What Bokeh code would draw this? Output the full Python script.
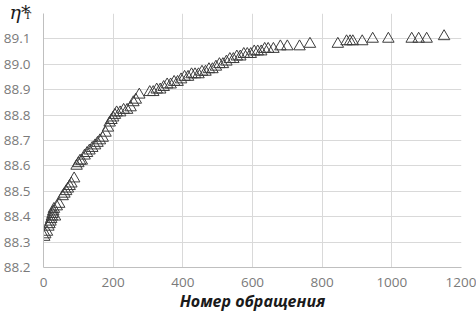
from bokeh.plotting import figure
from bokeh.models import Range1d, FixedTicker, PrintfTickFormatter, Title
from bokeh.embed import file_html
from bokeh.resources import INLINE

# Data
x_vals = [2, 5, 10, 14, 17, 20, 22, 24, 26, 28, 30, 33, 38, 45, 55, 60, 65, 70, 75, 80,
          88, 95, 100, 105, 110, 118, 125, 132, 140, 148, 155, 162, 170, 178, 185, 190,
          195, 200, 205, 210, 220, 230, 240, 250, 258, 265, 275, 305, 315, 325, 335, 345,
          355, 365, 375, 385, 395, 405, 415, 425, 435, 445, 455, 465, 475, 485, 495, 505,
          515, 525, 535, 545, 555, 565, 575, 585, 595, 605, 615, 625, 635, 645, 660, 680,
          700, 735, 765, 845, 870, 880, 888, 915, 945, 990, 1057, 1077, 1100, 1150]
y_vals = [88.32, 88.33, 88.34, 88.36, 88.37, 88.38, 88.39, 88.40, 88.41, 88.42, 88.43, 88.40,
          88.44, 88.45, 88.48, 88.49, 88.50, 88.51, 88.52, 88.53, 88.55, 88.60, 88.61, 88.62,
          88.62, 88.64, 88.65, 88.66, 88.67, 88.68, 88.69, 88.70, 88.71, 88.73, 88.75, 88.77,
          88.78, 88.79, 88.80, 88.81, 88.81, 88.82, 88.82, 88.83, 88.85, 88.86, 88.88, 88.89,
          88.89, 88.90, 88.90, 88.91, 88.92, 88.92, 88.93, 88.93, 88.94, 88.95, 88.95, 88.96,
          88.96, 88.96, 88.97, 88.97, 88.98, 88.98, 88.99, 89.00, 89.00, 89.01, 89.02, 89.02,
          89.03, 89.03, 89.04, 89.04, 89.04, 89.05, 89.05, 89.05, 89.06, 89.06, 89.06, 89.07,
          89.07, 89.07, 89.08, 89.08, 89.09, 89.09, 89.09, 89.09, 89.10, 89.10, 89.10, 89.10,
          89.10, 89.11]

x_ticks = [0, 200, 400, 600, 800, 1000, 1200]
y_ticks = [88.2, 88.3, 88.4, 88.5, 88.6, 88.7, 88.8, 88.9, 89.0, 89.1, 89.2]
x_label = "Номер обращения"
y_symbol = "η*"
y_subscript = "Т"

p = figure(width=476, height=314, output_backend="svg", toolbar_location=None,
           x_range=Range1d(0, 1200), y_range=Range1d(88.2, 89.2),
           min_border_left=40, min_border_right=15, min_border_top=13, min_border_bottom=44)
p.outline_line_color = None
p.background_fill_color = "white"
p.border_fill_color = "white"

p.scatter(x_vals, y_vals, marker="triangle", size=11.5, fill_alpha=0,
          line_color="#3c3c3c", line_width=1)

tick_font = "Open Sans"
tick_color = "#7a7a7a"
for ax in (p.xaxis[0], p.yaxis[0]):
    ax.major_tick_line_color = None
    ax.minor_tick_line_color = None
    ax.axis_line_color = "#bfbfbf"
    ax.major_label_text_font = tick_font
    ax.major_label_text_font_size = "13.5px"
    ax.major_label_text_color = tick_color

p.xaxis.major_label_standoff = 4
p.yaxis.major_label_standoff = 7

p.xaxis.ticker = FixedTicker(ticks=x_ticks)
p.yaxis.ticker = FixedTicker(ticks=y_ticks)
p.yaxis.formatter = PrintfTickFormatter(format="%.1f")
p.yaxis.major_label_overrides = {89.2: ""}

p.xaxis.axis_label = x_label
p.xaxis.axis_label_text_font = "Open Sans"
p.xaxis.axis_label_text_font_style = "bold italic"
p.xaxis.axis_label_text_font_size = "16px"
p.xaxis.axis_label_text_color = "#1a1a1a"
p.xaxis.axis_label_standoff = 0

p.xgrid.ticker = FixedTicker(ticks=x_ticks)
p.ygrid.ticker = FixedTicker(ticks=y_ticks)
p.xgrid.grid_line_color = "#d9d9d9"
p.ygrid.grid_line_color = "#d9d9d9"

# eta* as the plot title, pulled into the top-left corner
p.title.text = y_symbol
p.title.text_font = "DejaVu Serif"
p.title.text_font_style = "italic"
p.title.text_font_size = "19px"
p.title.text_color = "#1a1a1a"
p.title.align = "left"
p.title.vertical_align = "bottom"
p.title.offset = -34
p.title.standoff = -19

# subscript T as a second, zero-height title next to it
sub_title = Title(text=y_subscript, text_font="DejaVu Serif", text_font_style="normal",
                  text_font_size="10px", text_color="#1a1a1a", align="left",
                  vertical_align="bottom", offset=-19, standoff=-14)
p.add_layout(sub_title, "above")

open("out.html", "w").write(file_html(p, INLINE))
